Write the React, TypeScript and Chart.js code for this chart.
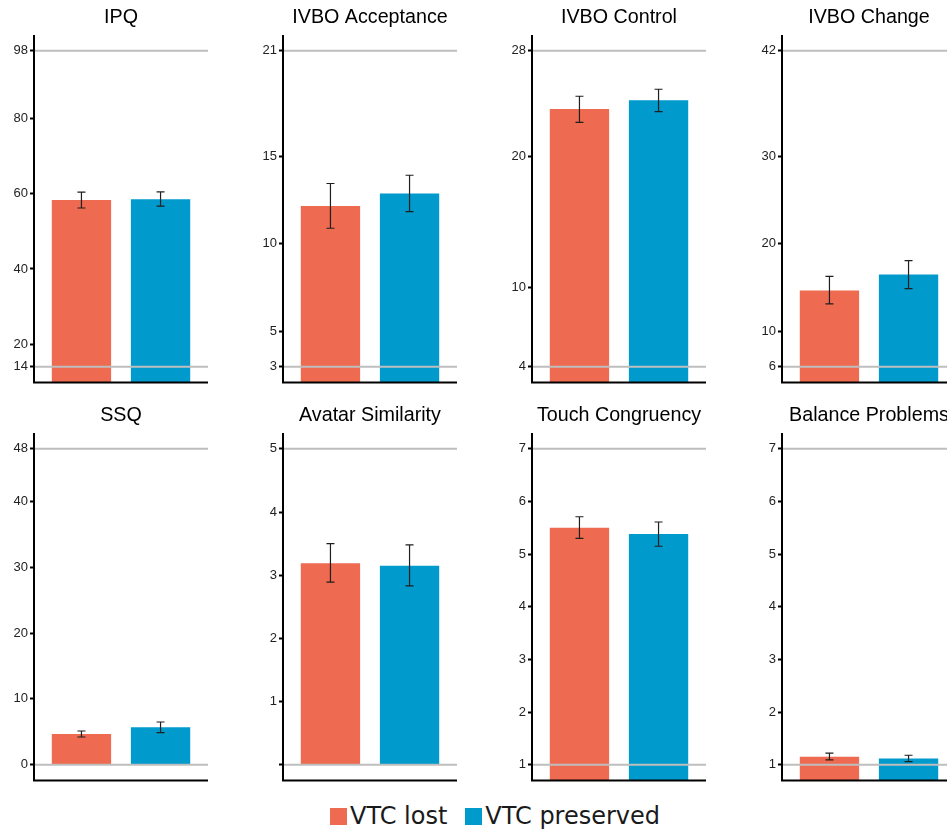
import React, { useEffect, useRef } from "react";
import { Chart, registerables } from "chart.js";

Chart.register(...registerables);

// ---------- data ----------
const panelTitles = [
  "IPQ",
  "IVBO Acceptance",
  "IVBO Control",
  "IVBO Change",
  "SSQ",
  "Avatar Similarity",
  "Touch Congruency",
  "Balance Problems",
];
const groups = ["VTC lost", "VTC preserved"];
const groupX = [1, 2];

const lostMean = [58.3, 12.16, 23.58, 14.69, 4.67, 3.19, 5.5, 1.15];
const lostLow = [56.2, 10.89, 22.57, 13.17, 4.21, 2.89, 5.3, 1.09];
const lostHigh = [60.4, 13.44, 24.55, 16.29, 5.12, 3.5, 5.71, 1.22];

const preservedMean = [58.5, 12.87, 24.24, 16.51, 5.68, 3.15, 5.38, 1.12];
const preservedLow = [56.7, 11.84, 23.38, 14.91, 4.87, 2.83, 5.15, 1.06];
const preservedHigh = [60.5, 13.91, 25.08, 18.08, 6.49, 3.48, 5.61, 1.18];

// scale limits (drawn as grey reference lines)
const scaleMin = [14, 3, 4, 6, 0, 0, 1, 1];
const scaleMax = [98, 21, 28, 42, 48, 5, 7, 7];

const tickValues = [
  [14, 20, 40, 60, 80, 98],
  [3, 5, 10, 15, 21],
  [4, 10, 20, 28],
  [6, 10, 20, 30, 42],
  [0, 10, 20, 30, 40, 48],
  [0, 1, 2, 3, 4, 5],
  [1, 2, 3, 4, 5, 6, 7],
  [1, 2, 3, 4, 5, 6, 7],
];
const tickLabels = [
  ["14", "20", "40", "60", "80", "98"],
  ["3", "5", "10", "15", "21"],
  ["4", "10", "20", "28"],
  ["6", "10", "20", "30", "42"],
  ["0", "10", "20", "30", "40", "48"],
  ["", "1", "2", "3", "4", "5"],
  ["1", "2", "3", "4", "5", "6", "7"],
  ["1", "2", "3", "4", "5", "6", "7"],
];

// ---------- style ----------
const RED = "#EE6A50";
const BLUE = "#009ACD";
const groupColors = [RED, BLUE];
const SANS = "'Liberation Sans', Arial, Helvetica, sans-serif";

const CANVAS_W = 208;
const CANVAS_H = 385;
const colLefts = [0, 249, 498, 748];
const rowTops = [0, 398];

function Panel({ index }: { index: number }) {
  const ref = useRef<HTMLCanvasElement>(null);
  const col = index % 4;
  const row = Math.floor(index / 4);

  useEffect(() => {
    const i = index;
    const lo = scaleMin[i];
    const hi = scaleMax[i];
    const pad = (hi - lo) * 0.05;
    const means = [lostMean[i], preservedMean[i]];
    const lows = [lostLow[i], preservedLow[i]];
    const highs = [lostHigh[i], preservedHigh[i]];

    const overlay = {
      id: "overlay",
      afterDatasetsDraw(chart: any) {
        const { ctx, chartArea: a } = chart;
        const xs = chart.scales.x;
        const ys = chart.scales.y;
        ctx.save();
        // grey reference lines at scale limits
        ctx.strokeStyle = "#BEBEBE";
        ctx.lineWidth = 2;
        [lo, hi].forEach((v) => {
          const py = ys.getPixelForValue(v);
          ctx.beginPath();
          ctx.moveTo(a.left, py);
          ctx.lineTo(a.right, py);
          ctx.stroke();
        });
        // error bars
        ctx.strokeStyle = "#1f1f1f";
        ctx.lineWidth = 1.2;
        groupX.forEach((gx, k) => {
          const px = xs.getPixelForValue(gx);
          const t = ys.getPixelForValue(highs[k]);
          const b = ys.getPixelForValue(lows[k]);
          ctx.beginPath();
          ctx.moveTo(px, t);
          ctx.lineTo(px, b);
          ctx.moveTo(px - 4, t);
          ctx.lineTo(px + 4, t);
          ctx.moveTo(px - 4, b);
          ctx.lineTo(px + 4, b);
          ctx.stroke();
        });
        // axis lines
        ctx.strokeStyle = "#000";
        ctx.lineWidth = 2;
        ctx.beginPath();
        ctx.moveTo(a.left, a.top);
        ctx.lineTo(a.left, a.bottom);
        ctx.lineTo(a.right, a.bottom);
        ctx.stroke();
        ctx.restore();
      },
    };

    const chart = new Chart(ref.current as HTMLCanvasElement, {
      type: "bar",
      data: {
        datasets: [
          {
            label: panelTitles[i],
            data: groupX.map((x, k) => ({ x, y: means[k] })),
            backgroundColor: groupColors,
            borderWidth: 0,
            barPercentage: 0.75,
            categoryPercentage: 1,
            clip: 0,
          } as any,
        ],
      },
      options: {
        responsive: false,
        animation: false,
        events: [],
        layout: { padding: { left: 0, right: 0, top: 0, bottom: 2.5 } },
        plugins: {
          legend: { display: false },
          tooltip: { enabled: false },
          title: {
            display: true,
            text: panelTitles[i],
            fullSize: false,
            color: "#000",
            font: { family: SANS, size: 19.7, weight: "normal", lineHeight: 1.2 },
            padding: { top: 6.2, bottom: 5.2 },
          },
        },
        scales: {
          x: {
            type: "linear",
            min: 0.4,
            max: 2.6,
            offset: false,
            grid: { offset: false },
            display: false,
            afterBuildTicks: (s: any) => {
              s.ticks = groupX.map((v) => ({ value: v }));
            },
          },
          y: {
            type: "linear",
            min: lo - pad,
            max: hi + pad,
            afterBuildTicks: (s: any) => {
              s.ticks = tickValues[i].map((v) => ({ value: v }));
            },
            afterFit: (s: any) => {
              s.width = 34;
              s.paddingTop = 0;
              s.paddingBottom = 0;
            },
            ticks: {
              autoSkip: false,
              padding: 2,
              color: "#222",
              font: { family: SANS, size: 13 },
              callback: (_v: any, idx: number) => tickLabels[i][idx],
            },
            grid: {
              drawOnChartArea: false,
              drawTicks: true,
              tickLength: 4,
              tickColor: "#000",
              tickWidth: 2,
            },
            border: { display: false },
          },
        },
      } as any,
      plugins: [overlay],
    });
    return () => chart.destroy();
  }, [index]);

  return (
    <canvas
      ref={ref}
      width={CANVAS_W}
      height={CANVAS_H}
      style={{
        position: "absolute",
        left: colLefts[col],
        top: rowTops[row],
        width: CANVAS_W,
        height: CANVAS_H,
      }}
    />
  );
}

export default function App() {
  return (
    <div
      style={{
        position: "fixed",
        left: 0,
        top: 0,
        width: 947,
        height: 831,
        overflow: "hidden",
        background: "#fff",
      }}
    >
      {panelTitles.map((_, i) => (
        <Panel key={i} index={i} />
      ))}
      <div
        style={{
          position: "absolute",
          left: 330,
          top: 802,
          height: 28,
          display: "flex",
          alignItems: "center",
          fontFamily: "'DejaVu Sans', Verdana, sans-serif",
          fontSize: 24,
          color: "#1a1a1a",
          whiteSpace: "nowrap",
        }}
      >
        {groups.map((g, k) => (
          <div
            key={g}
            style={{ display: "flex", alignItems: "center", marginLeft: k === 0 ? 0 : 18 }}
          >
            <span
              style={{
                display: "inline-block",
                width: 17,
                height: 17,
                background: groupColors[k],
                marginRight: 3,
              }}
            />
            <span>{g}</span>
          </div>
        ))}
      </div>
    </div>
  );
}
